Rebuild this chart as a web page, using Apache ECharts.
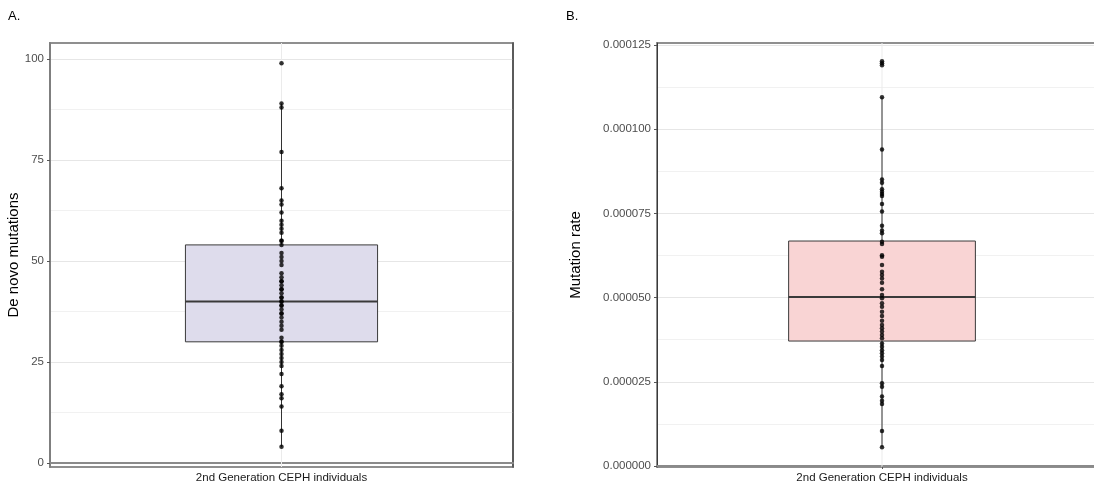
<!DOCTYPE html>
<html>
<head>
<meta charset="utf-8">
<script src="https://cdn.jsdelivr.net/npm/echarts@6/dist/echarts.min.js"></script>
<style>
  html, body { margin: 0; padding: 0; background: #ffffff; }
  #chart { width: 1094px; height: 489px; }
</style>
</head>
<body>
<div id="chart"></div>
<script>
// Single group on the x axis of both panels
const categories = ['2nd Generation CEPH individuals'];

// Panel A: de novo mutation counts per individual
const dnmCounts = [99, 89, 88, 77, 68, 65, 64, 62, 60, 59, 58, 57, 55, 55, 54, 52, 51, 50, 49, 47,
  46, 45, 45, 44, 43, 43, 42, 41, 41, 40, 40, 39, 39, 38, 37, 37, 36, 35, 34, 33,
  31, 30, 30, 29, 28, 27, 26, 25, 24, 22, 19, 17, 16, 14, 8, 4];
// lower whisker, Q1, median, Q3, upper whisker
const dnmBox = [4, 30, 40, 54, 89];
const dnmTicks = [0, 25, 50, 75, 100];
const dnmMinorTicks = [12.5, 37.5, 62.5, 87.5];
const dnmRange = [-1, 104];

// Panel B: per-individual mutation rate
const mutationRates = [120.2e-6, 119.6e-6, 119.0e-6, 109.5e-6, 94.0e-6, 85.1e-6, 84.1e-6, 82.2e-6,
  81.4e-6, 80.8e-6, 80.2e-6, 77.8e-6, 75.6e-6, 71.3e-6, 69.9e-6, 69.1e-6, 66.6e-6, 65.9e-6,
  62.6e-6, 62.1e-6, 59.7e-6, 57.7e-6, 56.7e-6, 55.7e-6, 54.4e-6, 52.5e-6, 50.8e-6, 49.8e-6,
  48.3e-6, 47.3e-6, 45.8e-6, 44.5e-6, 43.1e-6, 41.9e-6, 40.9e-6, 39.9e-6, 38.9e-6, 37.9e-6,
  36.4e-6, 35.4e-6, 34.4e-6, 33.5e-6, 32.5e-6, 31.5e-6, 29.7e-6, 24.6e-6, 23.5e-6, 20.6e-6,
  19.4e-6, 18.4e-6, 10.4e-6, 5.6e-6];
const rateBox = [5.6e-6, 37.1e-6, 50.2e-6, 66.8e-6, 109.5e-6];
const rateTicks = [0, 0.000025, 0.00005, 0.000075, 0.0001, 0.000125];
const rateMinorTicks = [0.0000125, 0.0000375, 0.0000625, 0.0000875, 0.0001125];
const rateRange = [-0.3e-6, 125.6e-6];

const FONT = 'Liberation Sans';
const TICK_GREY = '#4d4d4d';

function boxRenderer(stats, fill) {
  return function (params, api) {
    const cs = params.coordSys;
    const band = api.size([1, 0])[0];
    const half = band * 0.2075;
    const lo = api.coord([0, stats[0]]);
    const q1 = api.coord([0, stats[1]]);
    const med = api.coord([0, stats[2]]);
    const q3 = api.coord([0, stats[3]]);
    const hi = api.coord([0, stats[4]]);
    const x = med[0];
    return {
      type: 'group',
      children: [
        { type: 'line', shape: { x1: x, y1: cs.y, x2: x, y2: cs.y + cs.height },
          style: { stroke: '#ebebeb', lineWidth: 1 } },
        { type: 'line', shape: { x1: x, y1: hi[1], x2: x, y2: q3[1] },
          style: { stroke: '#333333', lineWidth: 1 } },
        { type: 'line', shape: { x1: x, y1: q1[1], x2: x, y2: lo[1] },
          style: { stroke: '#333333', lineWidth: 1 } },
        { type: 'rect', shape: { x: x - half, y: q3[1], width: 2 * half, height: q1[1] - q3[1] },
          style: { fill: fill, stroke: '#3a3a3a', lineWidth: 1 } },
        { type: 'line', shape: { x1: x - half, y1: med[1], x2: x + half, y2: med[1] },
          style: { stroke: '#3a3a3a', lineWidth: 2 } }
      ]
    };
  };
}

function mainYAxis(gridIndex, range, ticks, formatter, name, nameGap, lineColor, lineWidth) {
  return {
    type: 'value', gridIndex: gridIndex, position: 'left',
    min: range[0], max: range[1],
    name: name, nameLocation: 'middle', nameGap: nameGap,
    nameTextStyle: { fontFamily: FONT, fontSize: 15, color: '#000000' },
    axisLine: { show: true, lineStyle: { color: lineColor, width: lineWidth } },
    axisTick: { show: true, length: 3, customValues: ticks, lineStyle: { color: '#555555' } },
    axisLabel: { customValues: ticks, formatter: formatter, fontFamily: FONT, fontSize: 11.5,
      color: TICK_GREY, margin: 6 },
    splitLine: { show: true, lineStyle: { color: '#e6e6e6', width: 1 } }
  };
}

function minorYAxis(gridIndex, range, minors, showLine) {
  return {
    type: 'value', gridIndex: gridIndex, position: 'right',
    min: range[0], max: range[1],
    axisLine: { show: showLine, lineStyle: { color: '#4a4a4a', width: 1.5 } },
    axisTick: { show: false, customValues: minors },
    axisLabel: { show: false, customValues: minors },
    splitLine: { show: true, lineStyle: { color: '#f1f1f1', width: 1 } }
  };
}

function xAxisFor(gridIndex) {
  return {
    type: 'category', gridIndex: gridIndex, data: categories, boundaryGap: true,
    axisLine: { show: true, lineStyle: { color: '#8a8a8a', width: 2 } },
    axisTick: { show: true, alignWithLabel: true, length: 3, lineStyle: { color: '#555555' } },
    axisLabel: { fontFamily: FONT, fontSize: 11.5, color: '#1a1a1a', margin: 5 },
    splitLine: { show: false }
  };
}

const chart = echarts.init(document.getElementById('chart'), null, { renderer: 'canvas' });

chart.setOption({
  animation: false,
  backgroundColor: '#ffffff',
  graphic: [
    { type: 'text', left: 8, top: 10, style: { text: 'A.', fontFamily: FONT, fontSize: 13, fill: '#000' } },
    { type: 'text', left: 566, top: 10, style: { text: 'B.', fontFamily: FONT, fontSize: 13, fill: '#000' } }
  ],
  grid: [
    { left: 50, top: 43, width: 463, height: 424, outerBoundsMode: 'none',
      show: true, borderColor: '#8f8f8f', borderWidth: 2 },
    { left: 657, top: 43, width: 450, height: 424, outerBoundsMode: 'none',
      show: true, borderColor: '#8f8f8f', borderWidth: 2 }
  ],
  xAxis: [xAxisFor(0), xAxisFor(1)],
  yAxis: [
    mainYAxis(0, dnmRange, dnmTicks, v => String(v), 'De novo mutations', 25, '#7f7f7f', 2),
    minorYAxis(0, dnmRange, dnmMinorTicks, true),
    mainYAxis(1, rateRange, rateTicks, v => v.toFixed(6), 'Mutation rate', 74, '#3a3a3a', 1),
    minorYAxis(1, rateRange, rateMinorTicks, false)
  ],
  series: [
    { type: 'custom', xAxisIndex: 0, yAxisIndex: 0, z: 2, data: [[0, dnmBox[2]]],
      renderItem: boxRenderer(dnmBox, '#dedcec'), silent: true },
    { type: 'scatter', xAxisIndex: 0, yAxisIndex: 0, z: 3, symbolSize: 4.5,
      itemStyle: { color: '#000000' }, data: dnmCounts.map(v => [0, v]) },
    { type: 'custom', xAxisIndex: 1, yAxisIndex: 2, z: 2, data: [[0, rateBox[2]]],
      renderItem: boxRenderer(rateBox, '#f9d4d4'), silent: true },
    { type: 'scatter', xAxisIndex: 1, yAxisIndex: 2, z: 3, symbolSize: 4.5,
      itemStyle: { color: '#000000' }, data: mutationRates.map(v => [0, v]) }
  ]
});
</script>
</body>
</html>
